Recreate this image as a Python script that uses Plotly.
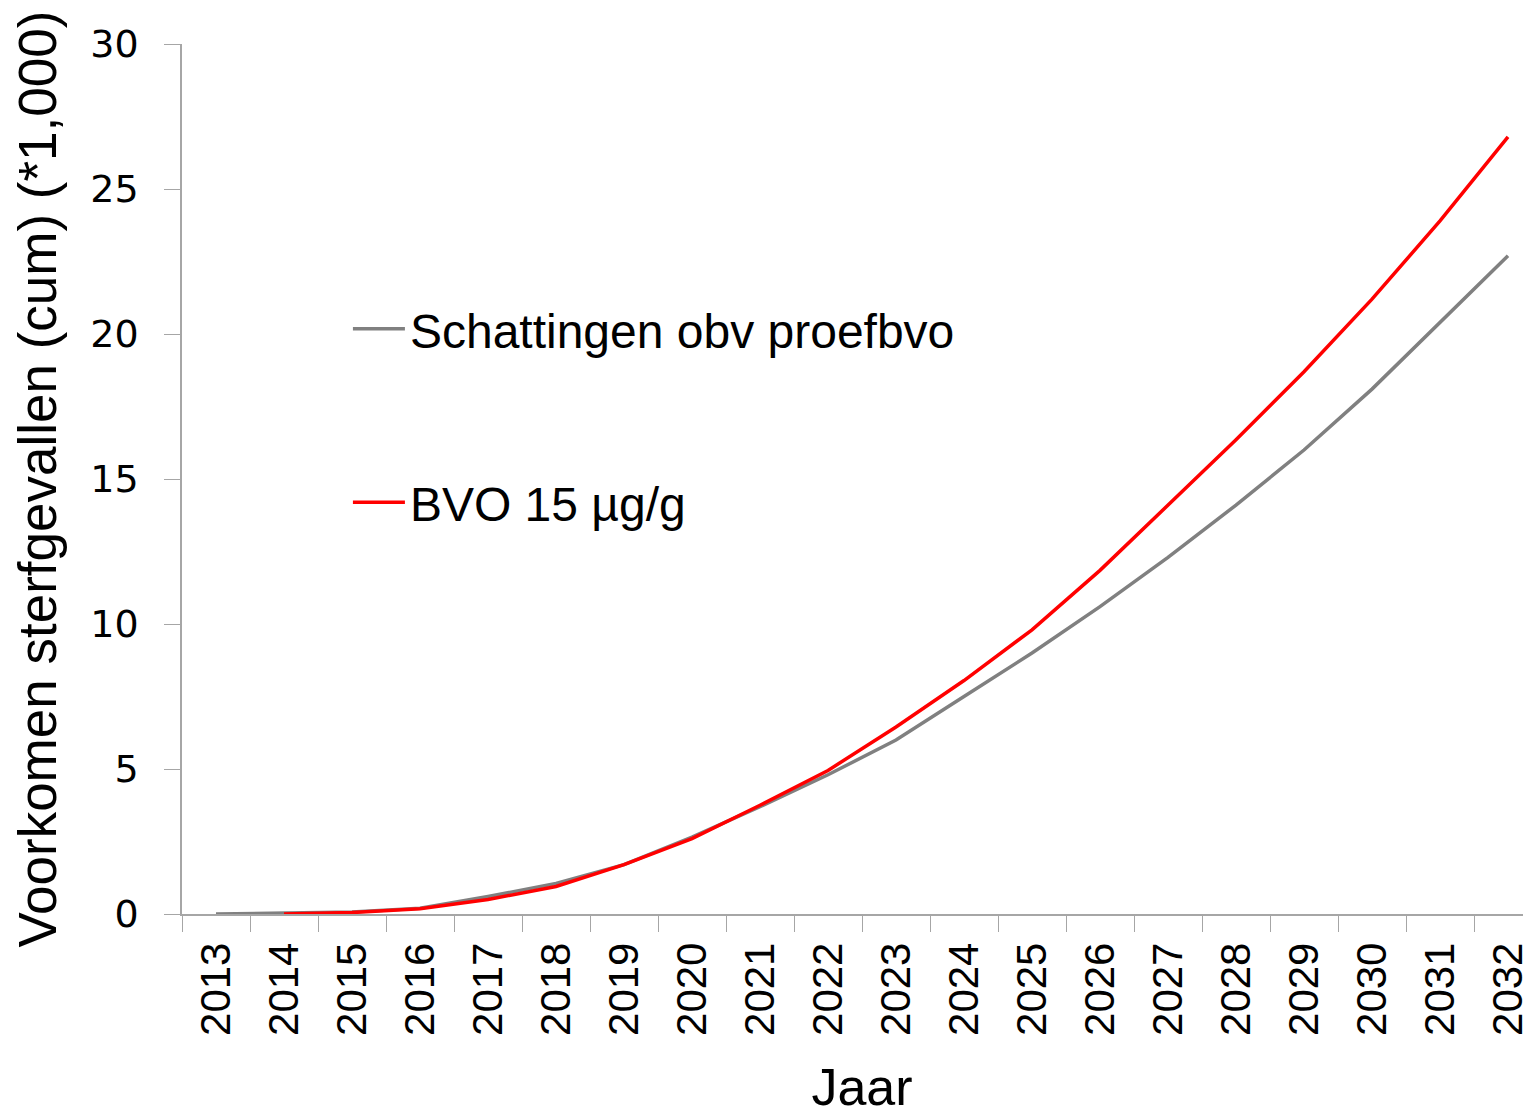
import plotly.graph_objects as go

years = [str(y) for y in range(2013, 2033)]

# cumulatieve sterfgevallen (*1,000)
schattingen = [0.0, 0.03, 0.07, 0.2, 0.6, 1.05, 1.7, 2.65, 3.7, 4.8,
               6.0, 7.5, 9.0, 10.6, 12.3, 14.1, 16.0, 18.1, 20.4, 22.7]
bvo_years = years[1:]
bvo15 = [0.0, 0.05, 0.18, 0.5, 0.95, 1.7, 2.6, 3.75, 4.95,
         6.45, 8.05, 9.8, 11.85, 14.1, 16.35, 18.7, 21.2, 23.9, 26.8]

axis_col = "#a6a6a6"

fig = go.Figure()
fig.add_trace(go.Scatter(
    x=years, y=schattingen, mode="lines",
    name="Schattingen obv proefbvo", legendgroup="a",
    line=dict(color="#808080", width=3.5)
))
fig.add_trace(go.Scatter(
    x=bvo_years, y=bvo15, mode="lines",
    name="BVO 15 µg/g", legendgroup="b",
    line=dict(color="#ff0000", width=3.5)
))

# page body adds 8px; the plot runs a little past the right edge like the original
fig.update_layout(
    width=1543, height=1114,
    margin=dict(l=174, r=9, t=36, b=208),
    plot_bgcolor="white", paper_bgcolor="white",
    font=dict(family="Liberation Sans, Arial, sans-serif", color="black"),
    showlegend=True,
    legend=dict(
        x=0.122, y=0.716, xanchor="left", yanchor="top",
        font=dict(size=48, color="black"),
        traceorder="grouped", tracegroupgap=108,
        itemwidth=52,
        bgcolor="rgba(0,0,0,0)"
    )
)

fig.update_xaxes(
    type="category", categoryorder="array", categoryarray=years,
    range=[-0.5, 19.5],
    showline=True, linecolor=axis_col, linewidth=1.5,
    ticks="outside", tickson="boundaries", ticklen=16, tickcolor=axis_col,
    tickangle=-90, tickfont=dict(size=42), ticklabelstandoff=10,
    showgrid=False, zeroline=False,
    title=dict(text="Jaar", font=dict(size=52), standoff=34)
)
fig.update_yaxes(
    range=[0, 30], dtick=5,
    showline=True, linecolor=axis_col, linewidth=1.5,
    ticks="outside", ticklen=16, tickcolor=axis_col,
    tickfont=dict(family="DejaVu Sans, sans-serif", size=38),
    ticklabelstandoff=18,
    showgrid=False, zeroline=False,
    title=dict(text="Voorkomen sterfgevallen (cum) (*1,000)",
               font=dict(size=53),
               standoff=22)
)

fig.write_html("out.html")
